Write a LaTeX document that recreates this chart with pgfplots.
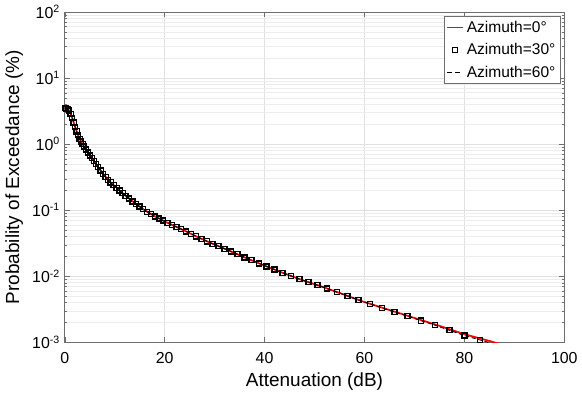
\documentclass[border=0pt]{standalone}
\usepackage{fontspec}
\setmainfont{Liberation Sans}
\usepackage{pgfplots}
\pgfplotsset{compat=1.18}

\definecolor{gridc}{RGB}{225,225,225}
\definecolor{axc}{RGB}{110,110,110}

\begin{document}
\begin{tikzpicture}
\begin{axis}[
    at={(0,0)}, anchor=south west,
    scale only axis,
    width=376.5pt, height=249pt,
    ymode=log,
    xmin=0, xmax=100,
    ymin=1e-3, ymax=1e2,
    xtick={0,20,40,60,80,100},
    ytick={1e-3,1e-2,1e-1,1e0,1e1,1e2},
    yticklabels={10\textsuperscript{-3},10\textsuperscript{-2},10\textsuperscript{-1},10\textsuperscript{0},10\textsuperscript{1},10\textsuperscript{2}},
    /pgf/number format/assume math mode=true,
    tick label style={font=\fontsize{12}{14}\selectfont},
    xticklabel style={yshift=-4pt},
    xlabel={Attenuation (dB)},
    ylabel={Probability of Exceedance (\%)},
    label style={font=\fontsize{14.3}{16}\selectfont},
    xmajorgrids, ymajorgrids, yminorgrids,
    major grid style={gridc, line width=0.5pt},
    minor grid style={gridc!60, line width=0.4pt},
    axis line style={axc},
    tick style={axc},
    tick align=inside,
    major tick length=4pt,
    minor tick length=2pt,
    xtick pos=both, ytick pos=both,
    legend style={at={(0.992,0.988)}, anchor=north east,
        font=\fontsize{11.7}{13}\selectfont, draw=axc,
        inner sep=1.5pt, row sep=3pt, cells={anchor=west}},
    legend image code/.code={\draw[mark repeat=2, mark phase=2, #1]
        plot coordinates {(0pt,0pt) (6pt,0pt) (12pt,0pt)};},
]
\addplot[red, line width=1.3pt, legend image post style={red, line width=1.3pt}] coordinates {
(0,3.50) (0.5,3.43) (1,3.16) (1.5,2.51) (2,1.91) (2.5,1.48) (3,1.20) (3.5,1.02)
(4,0.891) (5,0.692) (6,0.537) (7,0.417) (8,0.331) (9,0.272) (10,0.232)
(12,0.170) (14,0.129) (16,0.100) (18,0.0813) (20,0.0676) (22,0.0575) (24,0.0490)
(26,0.0412) (28,0.0351) (30,0.0302) (33,0.0243) (36,0.0193) (40,0.0145)
(44,0.0110) (48,0.00851) (52,0.00676) (56,0.00525) (60,0.00407) (65,0.00309)
(70,0.00234) (75,0.00178) (80,0.00133) (85,0.00105) (87,0.00095)
};
\addlegendentry{Azimuth=0°}
\addplot[only marks, mark=square, mark size=1.9pt, mark options={black, line width=1pt}] coordinates {
(0,3.50) (0.3,3.47) (0.6,3.37) (0.9,3.21) (1.2,2.88) (1.5,2.51) (1.8,2.13) (2.1,1.81)
(2.4,1.56) (2.7,1.36) (3.0,1.20) (3.3,1.09) (3.6,0.995) (3.9,0.916) (4.3,0.826)
(4.7,0.746) (5.1,0.675) (5.5,0.610) (5.9,0.551) (6.3,0.498) (6.7,0.450) (7.2,0.398)
(7.7,0.355) (8.2,0.318) (8.7,0.289) (9.2,0.264) (9.8,0.239) (10.4,0.218) (11.0,0.198)
(11.6,0.181) (12.2,0.165) (12.9,0.150) (13.6,0.136) (14.3,0.124) (15.0,0.1135)
(15.7,0.1038) (16.5,0.0949) (17.3,0.0874) (18.1,0.0805) (18.9,0.0748) (19.7,0.0695)
(20.6,0.0644) (21.5,0.0599) (22.4,0.0557) (23.3,0.0518) (24.3,0.0478) (25.3,0.0441)
(26.3,0.0402) (27.4,0.0368) (28.5,0.0338) (29.6,0.0311) (30.8,0.0285) (32.0,0.0261)
(33.3,0.0237) (34.6,0.0215) (36.0,0.0193) (37.4,0.0175) (38.9,0.0156) (40.4,0.0141)
(42.0,0.0126) (43.6,0.0113) (45.3,0.0101) (47.0,0.00907) (48.8,0.00813) (50.6,0.00733)
(52.5,0.00655) (54.5,0.00577) (56.6,0.00505) (58.8,0.00438) (61.1,0.00380) (63.5,0.00331)
(66.0,0.00287) (68.6,0.00249) (71.3,0.00213) (74.1,0.00182) (77.0,0.00153) (80.0,0.00127)
(83.1,0.00108)
};
\addlegendentry{Azimuth=30°}
\addplot[black, line width=0.7pt, dash pattern=on 3pt off 2pt,
    legend image post style={black, line width=0.7pt, dash pattern=on 3.5pt off 2.5pt}] coordinates {
(0,3.50) (0.6,3.37) (1.2,2.88) (1.8,2.13) (2.4,1.56) (3.0,1.20) (3.6,0.995) (4.3,0.826)
(5.1,0.675) (5.9,0.551) (6.7,0.450) (7.7,0.355) (8.7,0.289) (9.8,0.239) (11.0,0.198)
(12.2,0.165) (13.6,0.136) (15.0,0.1135) (16.5,0.0949) (18.1,0.0805) (19.7,0.0695)
(21.5,0.0599) (23.3,0.0518) (25.3,0.0441) (27.4,0.0368) (29.6,0.0311) (32.0,0.0261)
(34.6,0.0215) (37.4,0.0175) (40.4,0.0141) (43.6,0.0113) (47.0,0.00907) (50.6,0.00733)
(54.5,0.00577) (58.8,0.00438) (63.5,0.00331) (68.6,0.00249) (74.1,0.00182)
(80.0,0.00127) (85.0,0.00099)
};
\addlegendentry{Azimuth=60°}
\end{axis}
\useasboundingbox (-48.75pt,-44.25pt) rectangle (387.75pt,258pt);
\end{tikzpicture}
\end{document}
